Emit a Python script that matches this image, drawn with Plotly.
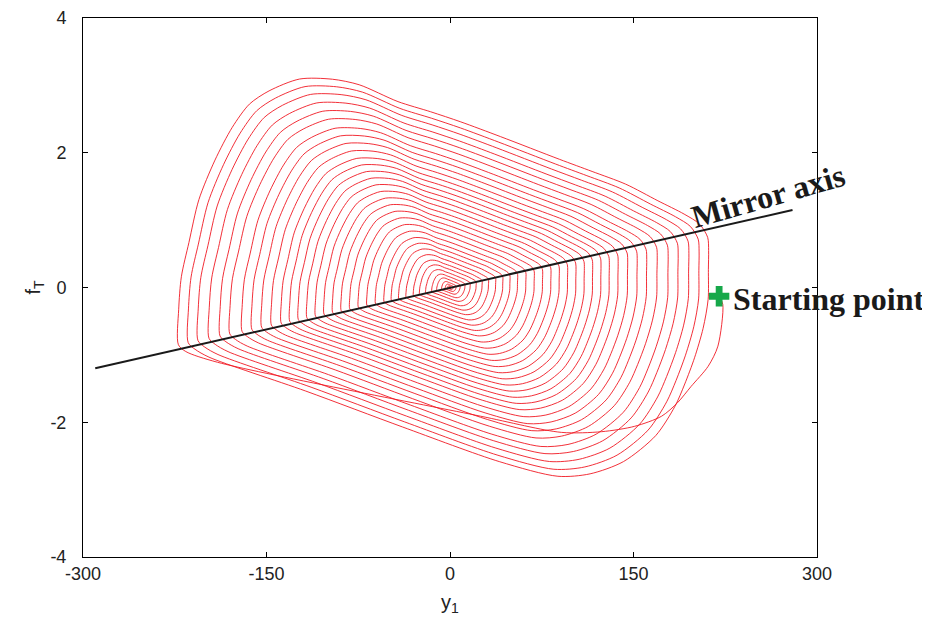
import plotly.graph_objects as go
import numpy as np

# ---- data ----
# first (transient) path from the starting point down to the left corner
FIRST_Y1 = [220, 223, 219, 211, 197, 186, 173, 151, 124, 91, 25, -190, -216]
FIRST_FT = [-0.13, -0.25, -0.87, -1.17, -1.47, -1.71, -1.91, -2.06, -2.14, -2.15, -1.91, -1.11, -0.95]

# outermost loop shape, clockwise from the left corner
OUTER_Y1 = [-222, -222, -220, -214, -206, -193, -179, -165, -149, -124, -97, -75, -43, -16, 9, 42,
            91, 118, 146, 173, 195, 208, 215, 216, 216, 216, 212, 205, 197, 189, 173, 146, 118, 91,
            42, -40, -122, -204, -216]
OUTER_FT = [-0.85, -0.33, 0.16, 0.67, 1.31, 1.90, 2.39, 2.74, 2.94, 3.12, 3.12, 3.04, 2.79, 2.64, 2.49, 2.27,
            1.93, 1.75, 1.56, 1.31, 1.11, 0.96, 0.76, 0.56, 0.27, -0.18, -0.62, -1.07, -1.47, -1.81, -2.26, -2.66,
            -2.85, -2.89, -2.67, -2.14, -1.59, -1.07, -0.95]

# left-side extent of each successive loop (y1)
LEFT_EXTENT = [-222, -214, -206, -197, -188, -180, -170, -162, -154, -146, -138, -131, -124, -117,
               -110, -103, -96, -89, -82, -75, -68, -61, -54, -48, -42, -36, -30, -25, -20, -15,
               -11, -7, -4, -2, -1, 0]

MIRROR_Y1 = [-290, 280]
MIRROR_FT = [-1.2, 1.15]

START_Y1 = [220]
START_FT = [-0.13]

X_TICKS = [-300, -150, 0, 150, 300]
Y_TICKS = [-4, -2, 0, 2, 4]

# ---- build the trajectory ----
oy = np.array(OUTER_Y1, float)
of = np.array(OUTER_FT, float)
n = len(oy)
traj_x = list(FIRST_Y1)
traj_y = list(FIRST_FT)
for k in range(len(LEFT_EXTENT) - 1):
    s0 = LEFT_EXTENT[k] / LEFT_EXTENT[0]
    s1 = LEFT_EXTENT[k + 1] / LEFT_EXTENT[0]
    s = s0 + (s1 - s0) * np.arange(n) / n
    traj_x += list(oy * s)
    traj_y += list(of * s)
traj_x.append(0.0)
traj_y.append(0.0)

fig = go.Figure()
fig.add_trace(go.Scatter(x=traj_x, y=traj_y, mode="lines",
                         line=dict(color="rgb(240,25,35)", width=0.9, shape="spline", smoothing=0.8),
                         showlegend=False))
fig.add_trace(go.Scatter(x=MIRROR_Y1, y=MIRROR_FT, mode="lines",
                         line=dict(color="#1a1a1a", width=2), showlegend=False))
fig.add_trace(go.Scatter(x=START_Y1, y=START_FT, mode="markers",
                         marker=dict(symbol="cross", size=17, color="#17a84a"),
                         showlegend=False))

serif = "Liberation Serif, Times New Roman, serif"
fig.add_annotation(x=0.0, y=0.0, xref="x", yref="y", text="<b>Mirror axis</b>",
                   showarrow=False, textangle=-16, font=dict(family=serif, size=32, color="#1a1a1a"),
                   xshift=(767 - 449), yshift=(288 - 196))
fig.add_annotation(x=START_Y1[0], y=START_FT[0], xref="x", yref="y", text="<b>Starting point</b>",
                   showarrow=False, xanchor="left", yanchor="middle",
                   font=dict(family=serif, size=32, color="#1a1a1a"), xshift=12, yshift=-3)

axis_common = dict(showgrid=False, zeroline=False, showline=True, linecolor="black", linewidth=1,
                   mirror="ticks", ticks="inside", ticklen=5, tickcolor="black", automargin=False,
                   tickfont=dict(family="Liberation Sans, Arial, sans-serif", size=18, color="#222"))
fig.update_xaxes(range=[-300, 300], tickvals=X_TICKS, ticktext=[str(v) for v in X_TICKS],
                 title=dict(text="y<sub>1</sub>", font=dict(family="Liberation Sans, Arial", size=20, color="#222"),
                            standoff=12), **axis_common)
fig.update_yaxes(range=[-4, 4], tickvals=Y_TICKS, ticktext=[str(v) for v in Y_TICKS],
                 title=dict(text="f<sub>T</sub>", font=dict(family="Liberation Sans, Arial", size=20, color="#222"),
                            standoff=4), ticklabelstandoff=12, **axis_common)

fig.update_layout(width=922, height=613, margin=dict(l=75, r=113, t=10, b=64),
                  plot_bgcolor="white", paper_bgcolor="white")
fig.write_html("out.html")
